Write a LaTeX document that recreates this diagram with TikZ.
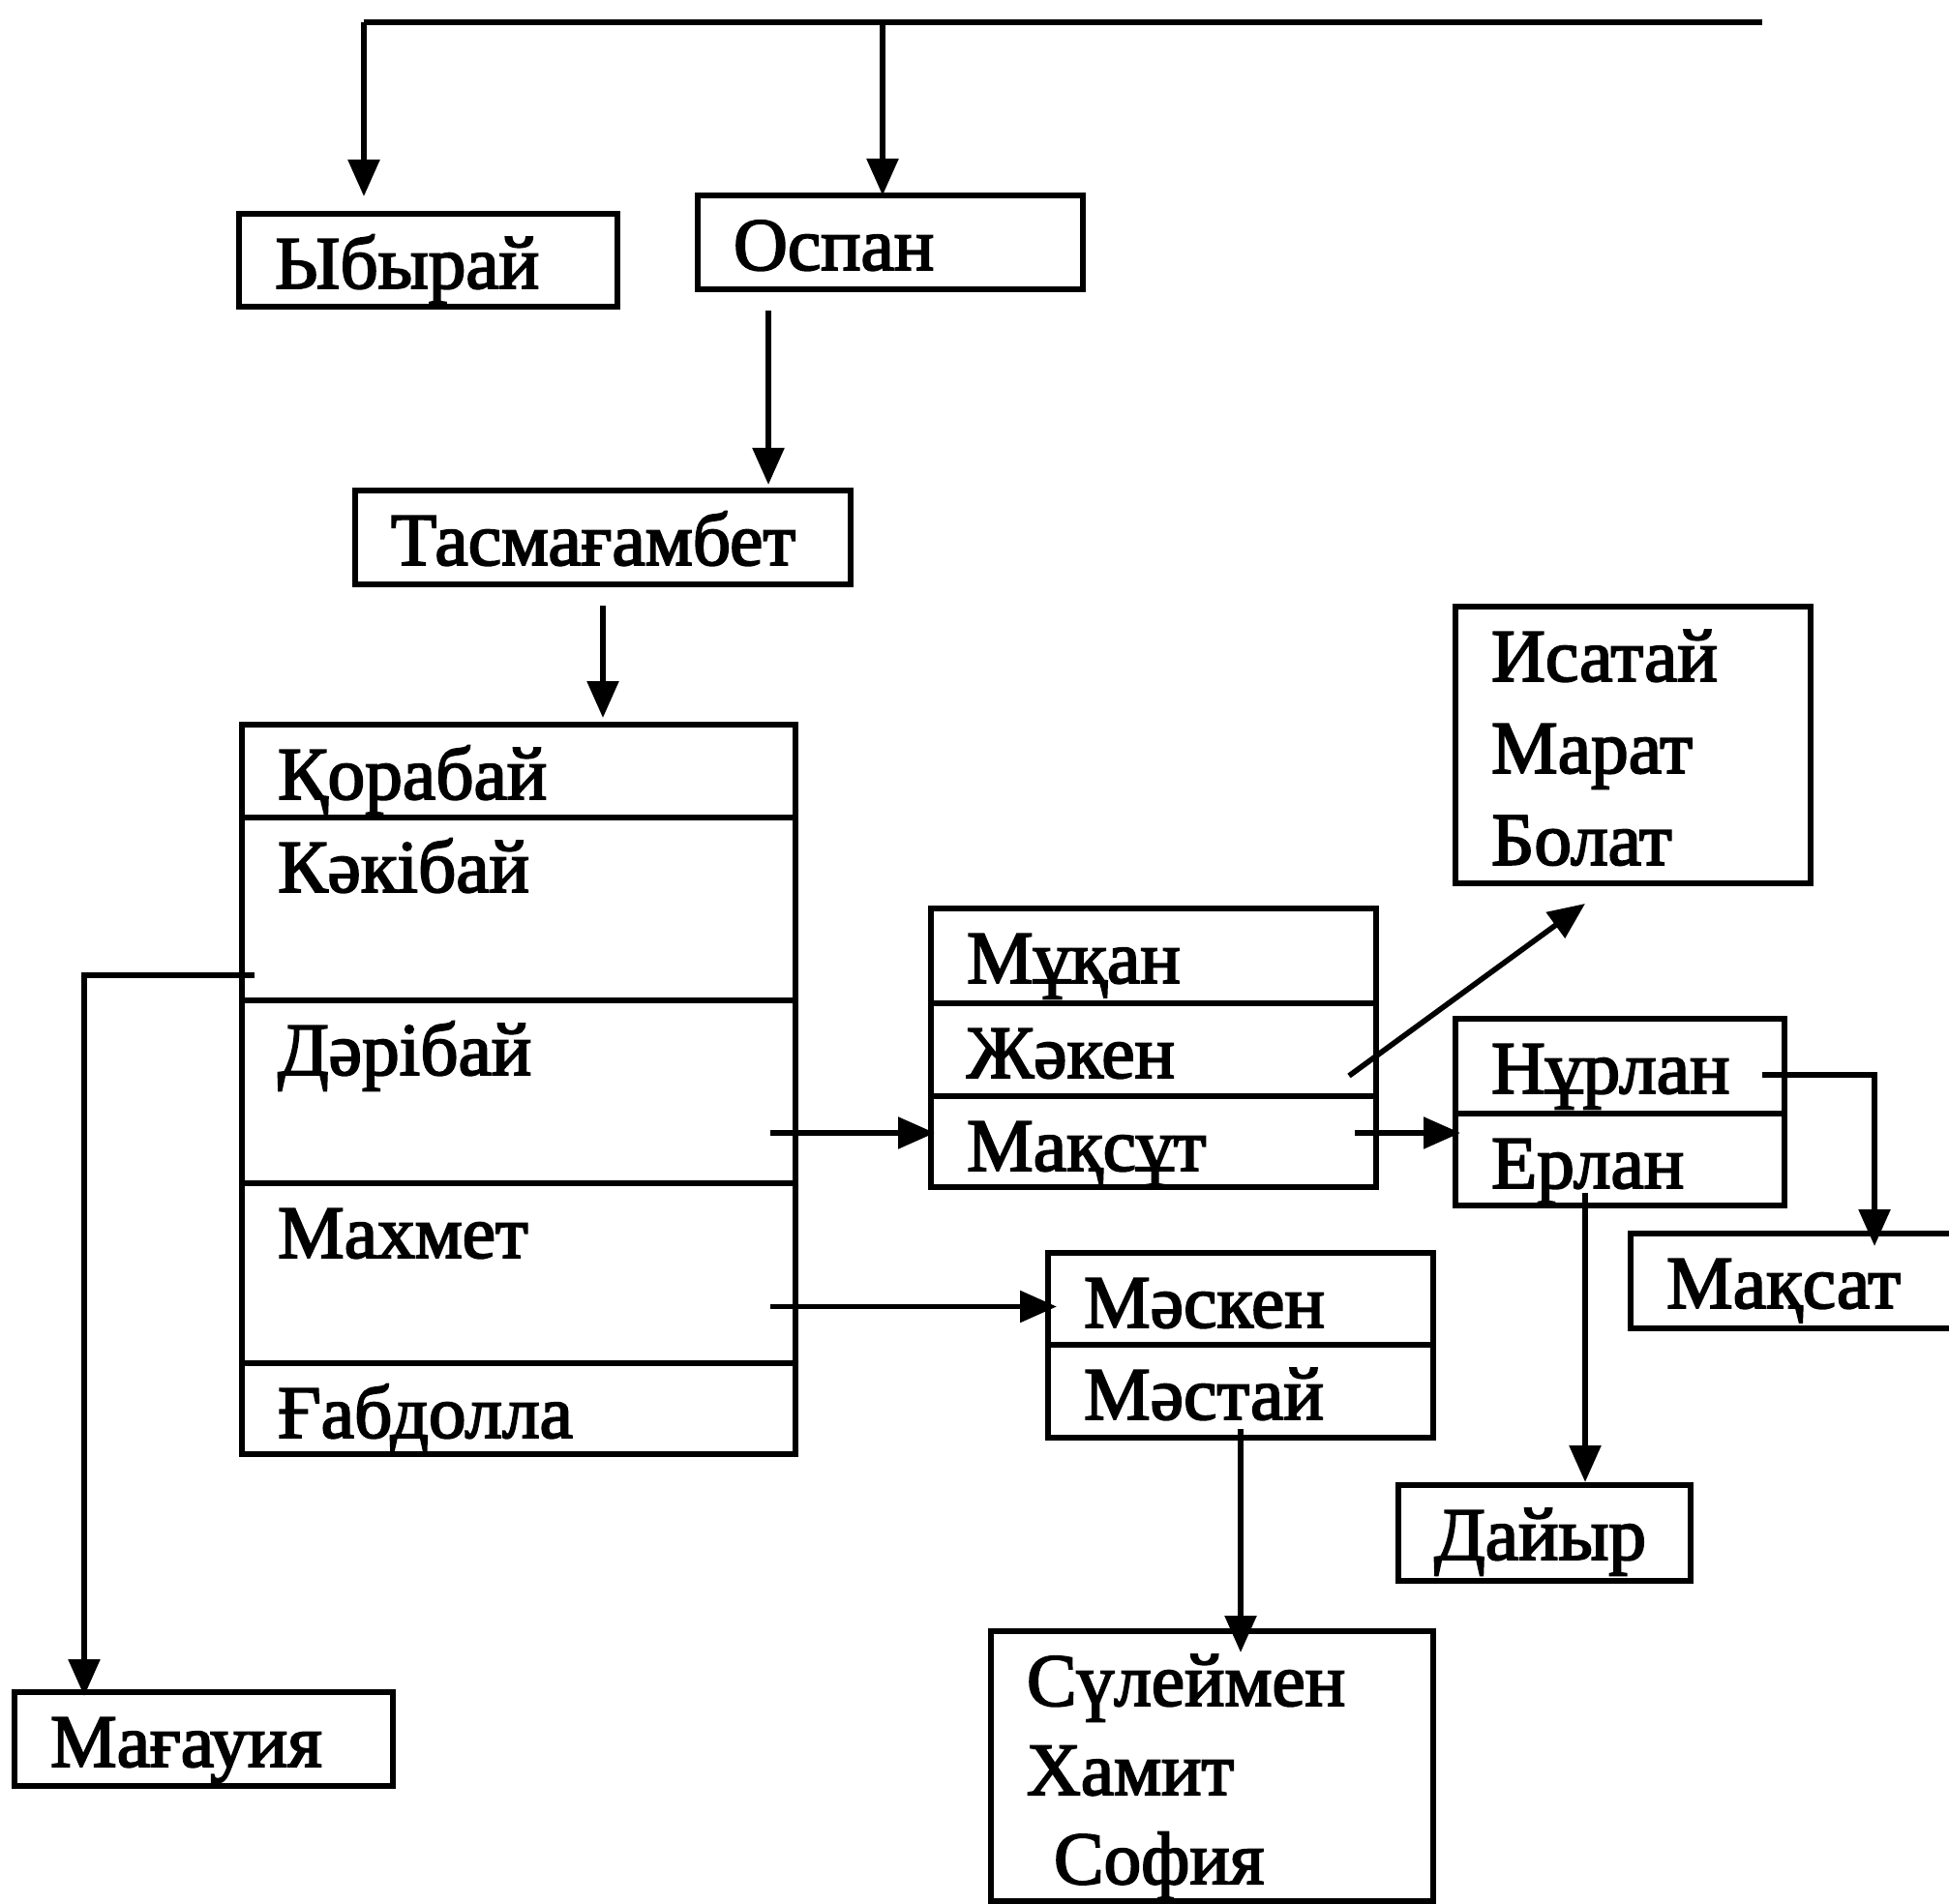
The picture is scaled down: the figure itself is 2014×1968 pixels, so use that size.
\documentclass[tikz,border=0pt]{standalone}
\usepackage{fontspec}
\setmainfont{Liberation Serif}
\newfontfamily\namefont{Liberation Serif}[FakeBold=2.5]
\usetikzlibrary{arrows.meta,positioning}

\tikzset{
  cell/.style={draw, line width=1.6pt, outer sep=0pt, anchor=north west,
    inner xsep=3.7mm, inner ysep=0pt, align=left,
    text height=7.7mm, text depth=1.9mm,
    font=\namefont\fontsize{22pt}{27pt}\selectfont},
  arr/.style={line width=1.6pt, -{Triangle[length=3.8mm,width=3.2mm]}},
}

\begin{document}
\begin{tikzpicture}[x=0.1mm, y=-0.1mm]
    \useasboundingbox (0,0) rectangle (2014,1968);
    \clip (0,0) rectangle (2014,1968);

    % top line
    \coordinate (topL) at (376,23);
    \coordinate (topM) at (912,23);
    \coordinate (topR) at (1821,23);

    % first row
    \node[cell, text width=31.7mm] (ybyrai) at (247,221) {Ыбырай};
    \node[cell, text width=32.4mm, text depth=2.0mm] (ospan) at (721,202) {Оспан};
    \node[cell, text width=43.8mm, text depth=2.0mm] (tasma) at (367,507) {Тасмағамбет};

    % sons of Tasmagambet
    \node[cell, text width=49.8mm] (korabai) at (250,749) {Қорабай};
    \node[cell, text width=49.8mm, text depth=11.2mm, below=0pt of korabai] (kakibai) {Кәкібай};
    \node[cell, text width=49.8mm, text depth=11.2mm, below=0pt of kakibai] (daribai) {Дәрібай};
    \node[cell, text width=49.8mm, text depth=10.9mm, below=0pt of daribai] (mahmet) {Махмет};
    \node[cell, text width=49.8mm, text depth=1.7mm, below=0pt of mahmet] (gabdolla) {Ғабдолла};

    % Daribai's line
    \node[cell, text width=38.6mm, text depth=2.1mm] (mukan) at (962,939) {Мұқан};
    \node[cell, text width=38.6mm, below=0pt of mukan] (zhaken) {Жәкен};
    \node[cell, text width=38.6mm, text depth=1.7mm, below=0pt of zhaken] (maksut) {Мақсұт};
    \node[cell, text width=29.3mm, text depth=20.9mm] (isatai) at (1504,627) {Исатай\\Марат\\Болат};
    \node[cell, text width=26.6mm, text depth=2.1mm] (nurlan) at (1504,1053) {Нұрлан};
    \node[cell, text width=26.6mm, text depth=1.8mm, below=0pt of nurlan] (erlan) {Ерлан};
    \node[cell, text width=32.6mm, text depth=2.1mm] (maksat) at (1685,1275) {Мақсат};
    \node[cell, text width=22.8mm, text depth=2.2mm] (dayr) at (1445,1535) {Дайыр};

    % Mahmet's line
    \node[cell, text width=32.4mm, text depth=1.8mm] (masken) at (1083,1295) {Мәскен};
    \node[cell, text width=32.4mm, below=0pt of masken] (mastai) {Мәстай};
    \node[cell, text width=38.3mm, text depth=20.2mm,
          font=\namefont\fontsize{22pt}{26.2pt}\selectfont] (suleimen) at (1024,1686)
          {Сүлеймен\\Хамит\\\hspace*{2.8mm}София};

    % Kakibai's line
    \node[cell, text width=31.7mm, text depth=2.0mm] (magauia) at (15,1749) {Мағауия};

    % connectors
    \draw[line width=1.8pt] (topL) -- (topR);
    \draw[arr] (topL) -- ([yshift=1.8mm]topL |- ybyrai.north);
    \draw[arr] (topM) -- (topM |- ospan.north);
    \draw[arr] ([xshift=-12.6mm,yshift=-2.2mm]ospan.south) coordinate (ot) -- ([yshift=0.6mm]ot |- tasma.north);
    \draw[arr] ([yshift=-2.2mm]tasma.south) -- ([yshift=0.7mm]tasma.south |- korabai.north);
    \draw[arr] ([xshift=1.3mm,yshift=2.6mm]kakibai.south west) -| ([xshift=7.2mm,yshift=-0.4mm]magauia.north west);
    \draw[arr] ([xshift=-2.6mm,yshift=0.9mm]daribai.east |- maksut.west) -- ([xshift=0.4mm,yshift=0.9mm]maksut.west);
    \draw[arr] ([xshift=-2.6mm,yshift=-0.8mm]mahmet.east |- masken.west) -- ([xshift=0.9mm,yshift=-0.8mm]masken.west);
    \draw[arr] ([xshift=-2.8mm,yshift=2.1mm]zhaken.south east) -- ([xshift=-4.95mm,yshift=-2.1mm]isatai.south);
    \draw[arr] ([xshift=-2.2mm,yshift=0.9mm]maksut.east) -- ([xshift=0.5mm,yshift=0.9mm]maksut.east -| erlan.west);
    \draw[arr] ([xshift=-2.3mm,yshift=-0.9mm]nurlan.east) -| ([xshift=25.2mm,yshift=-1.3mm]maksat.north west);
    \draw[arr] ([xshift=-3.6mm,yshift=1.3mm]erlan.south) coordinate (ed) -- ([yshift=0.3mm]ed |- dayr.north);
    \draw[arr] ([yshift=0.9mm]mastai.south) -- ([yshift=-2.2mm]mastai.south |- suleimen.north);
\end{tikzpicture}
\end{document}
